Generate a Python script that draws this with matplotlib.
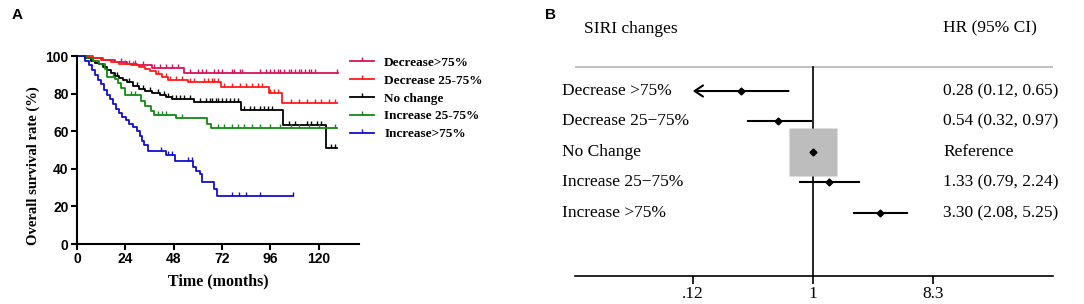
import numpy as np
import matplotlib
matplotlib.use("Agg")
import matplotlib.pyplot as plt
from matplotlib.lines import Line2D

# === Panel A: Kaplan-Meier data (time in months, survival in %) ===
groups = ["Decrease>75%", "Decrease 25-75%", "No change", "Increase 25-75%", "Increase>75%"]
colors = ["#d4145a", "#ff1a1a", "#000000", "#138a13", "#1010c8"]

dec75_t = [0, 6, 12, 19, 25, 30, 37, 53]
dec75_s = [100, 99, 98, 97, 96, 95, 93.5, 91.2]
dec75_end = 129.5
dec75_cens = [22, 26, 29, 33, 38, 41, 44, 47, 50, 56, 60, 62, 64, 68, 70, 72, 77, 78, 81, 82,
              91, 94, 96, 98, 100, 101, 103, 105, 106, 108, 110, 111, 113, 115, 116, 118, 129]

dec25_t = [0, 8, 13, 17, 21, 27, 31, 34, 36, 39, 42, 45, 55, 71.6, 95.5, 102]
dec25_s = [100, 99, 98, 97, 96, 95, 94, 93, 92, 90.5, 89, 87.5, 86.2, 83.7, 80.5, 74.9]
dec25_end = 129
dec25_cens = [24, 28, 40, 44, 46, 49, 52, 56, 58, 63, 65, 67, 68, 70, 73, 77, 81, 84, 87, 90, 92,
              96, 98, 100, 106, 110, 114, 118, 121, 125, 128]

noch_t = [0, 4, 7, 9, 11, 13, 15, 17, 19, 21, 23, 25, 28, 31, 34, 37, 41, 44, 47, 58, 81.5, 102.5, 123.5]
noch_s = [100, 99, 97.5, 96.5, 95.5, 94, 92.5, 91, 89.5, 88.5, 87.5, 86, 84, 82.5, 81.5, 80.3,
          79.3, 78.3, 77, 75.7, 71.2, 63.4, 51.3]
noch_end = 129
noch_cens = [20, 26, 30, 33, 36, 40, 43, 45, 47, 49, 51, 53, 56, 61, 64, 66, 67, 69, 70, 72, 74,
             76, 78, 80, 83, 86, 88, 91, 93, 95, 97, 105, 108, 114, 116, 119, 121, 126, 128]

inc25_t = [0, 5, 8, 11, 14, 15, 19, 20.5, 22, 24, 32, 34, 36.5, 38, 49, 64.5, 66.5]
inc25_s = [100, 99, 97.5, 95.5, 93, 89, 88, 85.5, 83, 79, 76, 73.5, 71, 68.5, 67, 64, 61.7]
inc25_end = 129
inc25_cens = [18, 27, 29, 40, 42, 44, 52, 70, 73, 77, 80, 83, 87, 91, 96, 101, 106, 110, 115, 120, 128]

inc75_t = [0, 4, 6, 7.5, 9, 10.5, 12, 13.5, 15, 16.5, 18, 19.5, 21, 22.5, 24.5, 26, 28, 30,
           31.5, 32.5, 33.5, 35, 44, 48.5, 57.5, 59, 61, 62, 68, 69.5]
inc75_s = [100, 97.5, 95, 92.5, 90, 87.5, 85, 82, 79.5, 77, 74.5, 72, 69.5, 67.5, 66, 64, 62, 60,
           57.5, 55, 52.5, 49.5, 47.5, 44, 41, 39, 37, 33, 29, 25.3]
inc75_end = 107
inc75_cens = [41.5, 45, 47, 55, 57, 77, 80.5, 84, 91, 107]

km_times = [dec75_t, dec25_t, noch_t, inc25_t, inc75_t]
km_surv = [dec75_s, dec25_s, noch_s, inc25_s, inc75_s]
km_end = [dec75_end, dec25_end, noch_end, inc25_end, inc75_end]
km_cens = [dec75_cens, dec25_cens, noch_cens, inc25_cens, inc75_cens]

# === Panel B: hazard ratios ===
fp_labels = ["Decrease >75%", "Decrease 25\u221275%", "No Change", "Increase 25\u221275%", "Increase >75%"]
fp_hr = [0.28, 0.54, 1.0, 1.33, 3.30]
fp_lo = [0.12, 0.32, None, 0.79, 2.08]
fp_hi = [0.65, 0.97, None, 2.24, 5.25]
fp_text = ["0.28 (0.12, 0.65)", "0.54 (0.32, 0.97)", "Reference", "1.33 (0.79, 2.24)", "3.30 (2.08, 5.25)"]
fp_ticks = [0.12, 1, 8.3]
fp_ticklabels = [".12", "1", "8.3"]

SERIF = "Liberation Serif"
SANS = "Liberation Sans"

W, H = 1084, 304
fig = plt.figure(figsize=(W / 100, H / 100), dpi=100)


def fx(px):
    return px / W


def fy(py):
    return 1 - py / H


def step_value(ts, ss, t):
    i = np.searchsorted(ts, t, side="right") - 1
    return ss[max(i, 0)]


# ---------- Panel A ----------
ax = fig.add_axes([fx(77), fy(244), fx(359) - fx(77), fy(56) - fy(244)])
for ts, ss, end, cens, c in zip(km_times, km_surv, km_end, km_cens, colors):
    xs = list(ts) + [end]
    ys = list(ss) + [ss[-1]]
    ax.step(xs, ys, where="post", color=c, lw=1.3, clip_on=False)
    cy = [step_value(ts, ss, t) for t in cens]
    ax.plot(cens, cy, ls="none", marker=2, ms=3.0, mew=1.0, color=c, clip_on=False)

ax.set_xlim(0, 140)
ax.set_ylim(0, 100)
ax.set_xticks([0, 24, 48, 72, 96, 120])
ax.set_yticks([0, 20, 40, 60, 80, 100])
for s in ["top", "right"]:
    ax.spines[s].set_visible(False)
for s in ["left", "bottom"]:
    ax.spines[s].set_linewidth(1.5)
ax.tick_params(width=1.5, length=4, pad=2)
for lab in ax.get_xticklabels() + ax.get_yticklabels():
    lab.set_fontfamily(SANS)
    lab.set_fontweight("bold")
    lab.set_fontsize(10)

fig.text(fx(33), fy(166), "Overall survival rate (%)", rotation=90, ha="center", va="center",
         family=SERIF, weight="bold", fontsize=10.5)
fig.text(fx(218), fy(281), "Time (months)", ha="center", va="center",
         family=SERIF, weight="bold", fontsize=11.5)

handles = [Line2D([0], [0], color=c, lw=1.3, marker=2, ms=3.0, mew=1.0) for c in colors]
leg = fig.legend(handles, groups, loc="upper left", bbox_to_anchor=(fx(338), fy(45)),
                 frameon=False, handlelength=1.8, handletextpad=0.8, labelspacing=0.42,
                 numpoints=1, prop={"family": SERIF, "weight": "bold", "size": 9.5})

fig.text(fx(12), fy(15), "A", family=SANS, weight="bold", fontsize=11, va="center")
fig.text(fx(545), fy(15), "B", family=SANS, weight="bold", fontsize=11, va="center")

# ---------- Panel B ----------
bx = fig.add_axes([fx(575), fy(276), fx(1053) - fx(575), fy(20) - fy(276)])
bx.set_xscale("log")
bx.set_xlim(np.exp(-4.2), np.exp(4.24))
row_y = np.arange(len(fp_labels))
bx.set_ylim(6.07, -2.33)

bx.axhline(-0.79, color="#b4b4b4", lw=1.2)
bx.plot([1, 1], [-0.79, 6.07], color="black", lw=1.2)

for i in range(len(fp_labels)):
    y = row_y[i]
    if fp_lo[i] is None:
        bx.plot(fp_hr[i], y, marker="s", ms=34, color="#bdbdbd", mec="none")
    else:
        if i == 0:
            bx.annotate("", xy=(fp_lo[i], y), xytext=(fp_hi[i], y),
                        arrowprops=dict(arrowstyle="->,head_length=0.6,head_width=0.4",
                                        color="black", lw=1.5, shrinkA=0, shrinkB=0))
        else:
            bx.plot([fp_lo[i], fp_hi[i]], [y, y], color="black", lw=1.5)
    bx.plot(fp_hr[i], y, marker="D", ms=3.5, color="black")

tr_left = matplotlib.transforms.blended_transform_factory(fig.transFigure, bx.transData)
for i in range(len(fp_labels)):
    bx.text(fx(562), row_y[i], fp_labels[i], transform=tr_left, ha="left", va="center",
            family=SERIF, fontsize=12.5)
    bx.text(fx(943), row_y[i], fp_text[i], transform=tr_left, ha="left", va="center",
            family=SERIF, fontsize=12.5)
bx.text(fx(584), -2.05, "SIRI changes", transform=tr_left, ha="left", va="center",
        family=SERIF, fontsize=12.5)
bx.text(fx(943), -2.05, "HR (95% CI)", transform=tr_left, ha="left", va="center",
        family=SERIF, fontsize=12.5)

for s in ["top", "right", "left"]:
    bx.spines[s].set_visible(False)
bx.spines["bottom"].set_linewidth(1.2)
bx.set_yticks([])
bx.set_xticks(fp_ticks)
bx.set_xticklabels(fp_ticklabels, family=SERIF, fontsize=12.5)
bx.xaxis.set_minor_locator(matplotlib.ticker.NullLocator())
bx.tick_params(axis="x", length=6, width=1.2, pad=1)

fig.savefig("out.png", dpi=100)
